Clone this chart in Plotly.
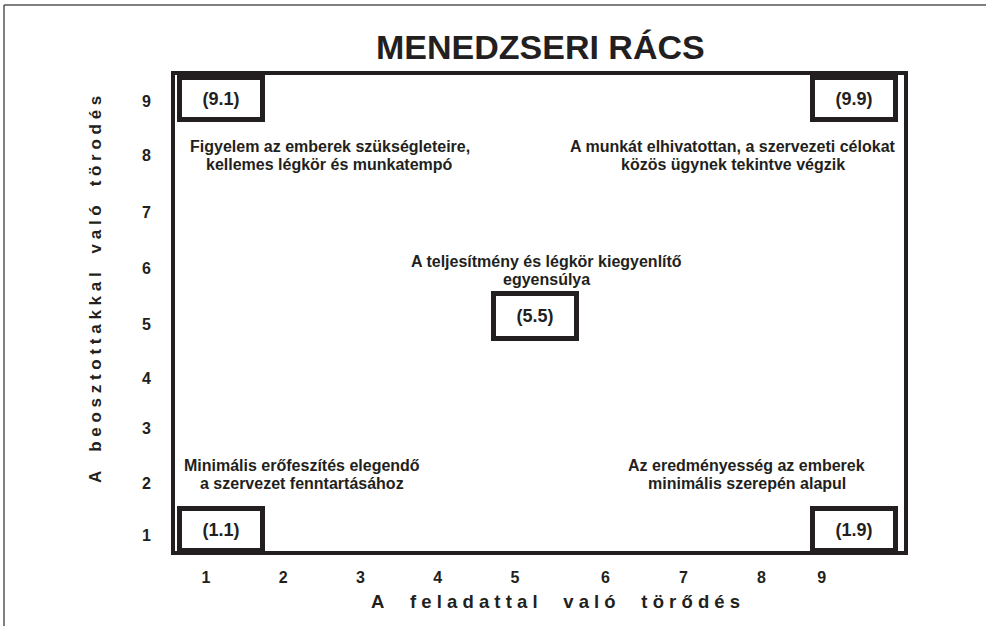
import plotly.graph_objects as go

# ---- data ----
title_text = "MENEDZSERI RÁCS"
x_title = "A feladattal való törődés"
y_title = "A beosztottakkal való törodés"
x_tick_labels = ["1", "2", "3", "4", "5", "6", "7", "8", "9"]
y_tick_labels = ["1", "2", "3", "4", "5", "6", "7", "8", "9"]
style_codes = ["(9.1)", "(9.9)", "(1.1)", "(1.9)", "(5.5)"]
style_task = [1.2, 9.39, 1.2, 9.39, 5.26]
style_people = [9.05, 9.05, 1.1, 1.1, 5.04]
desc_texts = [
    "Figyelem az emberek szükségleteire,<br>kellemes légkör és munkatempó",
    "A munkát elhivatottan, a szervezeti célokat<br>közös ügynek tekintve végzik",
    "A teljesítmény és légkör kiegyenlítő<br>egyensúlya",
    "Minimális erőfeszítés elegendő<br>a szervezet fenntartásához",
    "Az eredményesség az emberek<br>minimális szerepén alapul",
]
desc_task = [2.6, 7.82, 5.41, 2.24, 8.0]
desc_people = [8.0, 8.0, 5.88, 2.12, 2.12]

# ---- layout constants ----
x_tick_pos = [1, 2, 3, 4, 5, 6.17, 7.18, 8.19, 8.97]
y_tick_pos = [1, 1.96, 2.97, 3.88, 4.89, 5.92, 6.95, 7.99, 9]
W, H = 986, 626
ML, MR, MT, MB = 173, 80, 73, 73
FONT = "Liberation Sans, Arial, sans-serif"
INK = "#231f20"
NB = "\u00a0"
LINE_GAP = 18


def spaced(s, gap):
    return (NB * gap).join(" ".join(list(w)) for w in s.split(" "))


pw, ph = W - ML - MR, H - MT - MB
px = lambda p: (p - ML) / pw
py = lambda p: (H - MB - p) / ph

fig = go.Figure()
fig.add_trace(go.Scatter(x=[None], y=[None], showlegend=False, hoverinfo="skip"))

annotations = []
for code, x, y in zip(style_codes, style_task, style_people):
    h = 40 if code == "(5.5)" else 37
    annotations.append(dict(
        x=x, y=y, xref="x", yref="y", text="<b>" + code + "</b>", showarrow=False,
        font=dict(family=FONT, size=18, color=INK),
        width=78, height=h, borderpad=0, bordercolor=INK, borderwidth=5,
        bgcolor="white", xanchor="center", yanchor="middle",
    ))
for t, x, y in zip(desc_texts, desc_task, desc_people):
    lines = t.split("<br>")
    n = len(lines)
    for i, ln in enumerate(lines):
        annotations.append(dict(
            x=x, y=y, xref="x", yref="y", text="<b>" + ln + "</b>", showarrow=False,
            yshift=((n - 1) / 2 - i) * LINE_GAP,
            font=dict(family=FONT, size=16, color=INK), align="center",
            xanchor="center", yanchor="middle",
        ))
# axis titles
annotations.append(dict(
    x=px(555), y=py(601), xref="paper", yref="paper",
    text="<b>" + spaced(x_title, 5) + "</b>", showarrow=False,
    font=dict(family=FONT, size=18.5, color=INK), xanchor="center", yanchor="middle",
))
annotations.append(dict(
    x=px(95), y=py(290), xref="paper", yref="paper",
    text="<b>" + spaced(y_title, 4) + "</b>", showarrow=False, textangle=-90,
    font=dict(family=FONT, size=17, color=INK), xanchor="center", yanchor="middle",
))
# title
annotations.append(dict(
    x=px(540), y=py(47), xref="paper", yref="paper",
    text="<b>" + title_text + "</b>", showarrow=False,
    font=dict(family=FONT, size=34, color=INK),
    xanchor="center", yanchor="middle",
))

shapes = [
    # outer page frame (top & left)
    dict(type="line", xref="paper", yref="paper", x0=px(4), x1=px(990), y0=py(5), y1=py(5),
         line=dict(color="#555", width=1.5)),
    dict(type="line", xref="paper", yref="paper", x0=px(4), x1=px(4), y0=py(5), y1=py(630),
         line=dict(color="#555", width=1.5)),
    # plot frame
    dict(type="rect", xref="paper", yref="paper", x0=0, x1=1, y0=0, y1=1,
         line=dict(color=INK, width=4)),
]

fig.update_layout(
    width=W, height=H, margin=dict(l=ML, r=MR, t=MT, b=MB),
    paper_bgcolor="white", plot_bgcolor="white",
    annotations=annotations, shapes=shapes, showlegend=False,
    xaxis=dict(range=[0.573, 10.06], tickvals=x_tick_pos, ticktext=["<b>%s</b>" % t for t in x_tick_labels],
               showgrid=False, zeroline=False, showline=False, ticks="", ticklen=0,
               tickfont=dict(family=FONT, size=16, color=INK), fixedrange=True),
    yaxis=dict(range=[0.668, 9.516], tickvals=y_tick_pos, ticktext=["<b>%s</b>" % t for t in y_tick_labels],
               showgrid=False, zeroline=False, showline=False, ticks="", ticklen=0,
               tickfont=dict(family=FONT, size=16, color=INK), fixedrange=True),
)
fig.update_xaxes(ticklabelstandoff=13)
fig.update_yaxes(ticklabelstandoff=21)

fig.write_html("out.html", config={"displayModeBar": False},
               post_script="document.body.style.margin='0';document.body.style.overflow='hidden';")
